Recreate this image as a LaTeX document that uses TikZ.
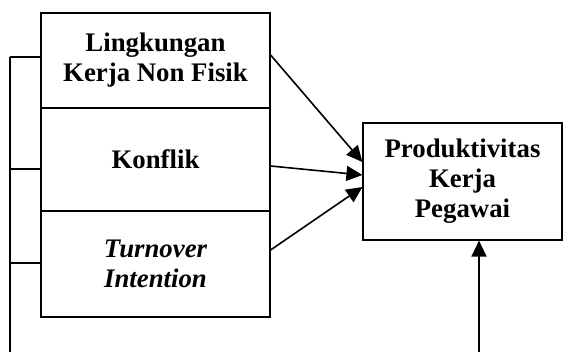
\documentclass[tikz,border=0pt]{standalone}
\usepackage{fontspec}
\setmainfont{Liberation Serif}
\usetikzlibrary{positioning}
\usetikzlibrary{arrows.meta}

\begin{document}
\begin{tikzpicture}[x=0.5pt,y=-0.5pt,
	kotak/.style={draw,line width=0.6pt,inner sep=0pt,align=center,
		font=\fontsize{13.4}{15}\selectfont\bfseries},
	panah/.style={line width=0.8pt,-{Triangle[length=8pt,width=7.5pt]}},
	garis/.style={line width=0.8pt}]
	\useasboundingbox (0,0) rectangle (564,352);

	\node[kotak,minimum width=114.5pt,minimum height=47.5pt] (lingkungan) at (155.5,60.5) {Lingkungan\\Kerja Non Fisik};
	\node[kotak,minimum width=114.5pt,minimum height=51.5pt] (konflik) at (155.5,159.5) {Konflik};
	\node[kotak,minimum width=114.5pt,minimum height=53pt] (turnover) at (155.5,264) {\itshape Turnover\\\itshape Intention};

	\node[kotak,minimum width=99.5pt,minimum height=58.5pt] (produktivitas) at (462.5,181.5) {Produktivitas\\Kerja\\Pegawai};

	% panah ke produktivitas
	\draw[panah] (lingkungan.east |- 0,55) -- (produktivitas.west |- 0,162);
	\draw[panah] (konflik.east |- 0,166) -- (produktivitas.west |- 0,175);
	\draw[panah] (turnover.east |- 0,250) -- (produktivitas.west |- 0,187);

	% garis simultan
	\coordinate (atas) at (10,57);
	\coordinate (bawah) at (10,352);
	\coordinate (ujung) at (479,352);
	\draw[garis] (atas) -- (bawah);
	\draw[garis] (atas) -- (lingkungan.west |- atas);
	\draw[garis] (10,169) -- (konflik.west |- 0,169);
	\draw[garis] (10,263) -- (turnover.west |- 0,263);
	\draw[panah] (ujung) -- (produktivitas.south -| ujung);
\end{tikzpicture}
\end{document}
